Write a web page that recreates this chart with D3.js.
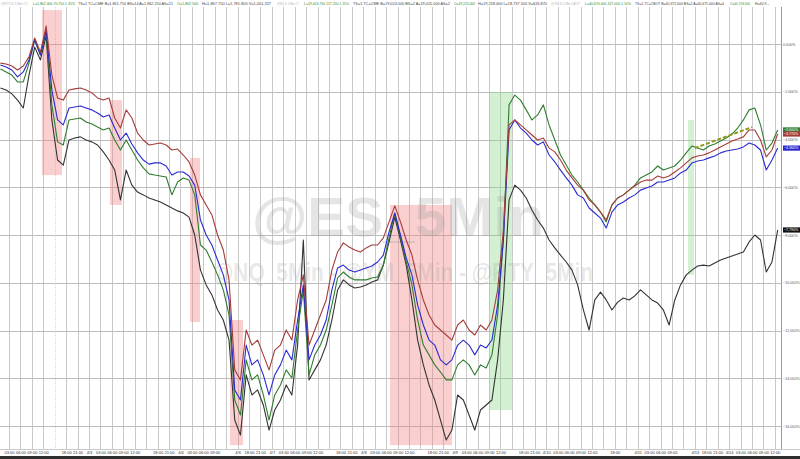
<!DOCTYPE html>
<html><head><meta charset="utf-8">
<script src="https://cdn.jsdelivr.net/npm/d3@7"></script>
<style>
html,body{margin:0;padding:0;background:#fff;}
svg{display:block;font-family:"Liberation Sans",Arial,sans-serif;}
</style></head>
<body>
<svg id="chart" width="800" height="459"></svg>
<script>
// ---------------- DATA ----------------
// time axis: 3-hour slots (continuous session index), one sample every half slot
const slotStart = -0.75, slotStep = 0.5;

const seriesNames = ["@YM_5Min", "@NQ_5Min", "@ES_5Min", "@RTY_5Min"];
const seriesColors = ["#a53c3a", "#2a2ad0", "#2f7d2f", "#333333"];

const redVals = [-0.80,-0.84,-0.92,-1.09,-0.92,-0.54,0.25,-0.34,0.75,-1.30,-2.26,-2.35,-1.93,-1.88,-1.84,-1.93,-2.05,-2.26,-2.35,-2.26,
-3.10,-3.52,-2.76,-3.10,-3.73,-4.02,-4.23,-4.19,-4.15,-4.23,-4.44,-4.40,-4.65,-4.94,-5.49,-6.32,-6.74,-7.16,-8.00,-8.63,
-9.88,-13.65,-14.07,-11.98,-12.61,-12.40,-13.02,-13.65,-12.82,-12.61,-11.98,-12.40,-10.72,-9.67,-12.61,-11.98,-11.35,-10.72,-9.47,-8.71,
-8.33,-8.50,-8.63,-8.71,-8.54,-8.42,-8.42,-8.12,-7.45,-6.78,-7.45,-8.21,-8.84,-9.88,-10.72,-11.35,-11.77,-11.98,-12.19,-12.40,
-11.77,-11.56,-11.98,-12.19,-11.77,-11.98,-11.56,-10.30,-7.79,-3.39,-3.18,-3.39,-3.60,-3.81,-4.02,-3.94,-4.36,-4.52,-4.86,-5.28,
-5.61,-5.91,-6.12,-6.53,-6.74,-7.04,-7.37,-6.74,-6.45,-6.32,-6.12,-5.95,-5.78,-5.70,-5.70,-5.53,-5.61,-5.53,-5.36,-5.19,
-4.98,-4.77,-4.69,-4.65,-4.56,-4.44,-4.31,-4.19,-4.06,-3.98,-3.89,-3.60,-3.60,-4.02,-4.73,-4.44,-3.77];

const blueVals = [-0.88,-0.96,-1.09,-1.38,-1.17,-0.67,0.17,-0.46,0.59,-1.93,-3.18,-3.39,-2.68,-2.64,-2.60,-2.68,-2.76,-2.89,-3.06,-2.97,
-3.52,-4.02,-3.73,-4.19,-4.56,-4.86,-5.03,-4.98,-4.98,-5.11,-5.49,-5.36,-5.36,-5.53,-5.91,-7.37,-8.00,-8.42,-9.05,-9.67,
-10.72,-14.49,-14.91,-12.61,-13.44,-13.23,-13.86,-14.70,-13.86,-13.44,-12.82,-13.23,-11.56,-10.09,-13.23,-12.61,-12.19,-11.56,-10.30,-9.38,
-9.26,-9.47,-9.55,-9.47,-9.38,-9.30,-9.13,-8.84,-7.87,-7.08,-8.00,-8.96,-9.67,-10.93,-11.77,-12.40,-12.61,-13.23,-13.44,-13.23,
-12.61,-12.40,-12.61,-13.02,-12.61,-12.73,-12.40,-10.93,-8.21,-3.60,-3.18,-3.52,-3.73,-4.02,-4.23,-4.10,-4.65,-4.94,-5.28,-5.61,
-5.91,-6.32,-6.45,-6.87,-7.08,-7.29,-7.71,-7.04,-6.74,-6.62,-6.45,-6.32,-6.12,-6.03,-5.95,-5.78,-5.78,-5.70,-5.61,-5.40,
-5.28,-4.98,-4.90,-4.86,-4.77,-4.69,-4.56,-4.48,-4.44,-4.40,-4.31,-4.15,-4.23,-4.44,-5.28,-4.86,-4.36];

const greenVals = [-1.05,-1.17,-1.30,-1.59,-1.59,-0.80,0.17,-0.46,0.50,-2.55,-4.10,-4.23,-3.18,-3.14,-3.10,-3.27,-3.35,-3.48,-3.60,-3.52,
-4.02,-4.44,-4.02,-4.44,-4.86,-5.19,-5.44,-5.49,-5.53,-5.57,-6.32,-5.78,-5.61,-5.70,-6.32,-8.42,-8.63,-9.13,-9.67,-10.30,
-11.35,-14.91,-15.54,-13.23,-14.07,-13.86,-14.70,-15.75,-14.70,-14.28,-13.65,-13.99,-11.98,-10.30,-13.86,-13.02,-12.61,-11.98,-10.93,-9.80,
-9.55,-9.76,-9.88,-9.88,-9.88,-9.80,-9.76,-9.26,-8.12,-7.08,-8.08,-9.13,-10.09,-11.56,-12.61,-13.02,-13.44,-13.74,-14.07,-14.07,
-13.44,-13.23,-13.44,-13.86,-13.44,-13.57,-13.02,-11.35,-8.21,-2.55,-2.14,-2.35,-2.76,-3.18,-2.97,-2.55,-3.39,-4.02,-4.65,-5.07,
-5.49,-5.78,-6.12,-6.45,-6.74,-7.04,-7.45,-6.74,-6.45,-6.32,-6.12,-5.91,-5.61,-5.49,-5.36,-5.11,-5.28,-5.19,-5.11,-4.86,
-4.56,-4.27,-4.36,-4.44,-4.27,-4.19,-4.06,-3.94,-3.77,-3.52,-3.18,-2.76,-2.68,-3.39,-4.44,-4.15,-3.60];

const blackVals = [-1.84,-1.93,-2.09,-2.35,-2.68,-1.30,-0.13,-0.67,0.34,-3.18,-4.86,-5.07,-4.02,-3.94,-3.89,-4.02,-4.10,-4.23,-4.52,-4.86,
-5.28,-6.53,-5.28,-5.91,-6.20,-6.32,-6.45,-6.53,-6.62,-6.74,-6.87,-6.99,-7.08,-7.25,-8.00,-9.47,-10.09,-10.51,-11.14,-11.56,
-12.40,-15.75,-16.38,-13.86,-14.70,-14.49,-15.12,-16.17,-15.33,-14.91,-14.28,-14.70,-12.61,-8.21,-14.07,-13.65,-13.23,-12.61,-11.56,-10.30,
-9.88,-10.09,-10.22,-10.18,-10.09,-9.97,-9.88,-9.26,-8.29,-7.25,-8.21,-9.26,-10.72,-12.40,-13.44,-14.28,-14.91,-15.75,-16.59,-16.17,
-14.70,-14.91,-15.54,-16.17,-15.33,-15.12,-14.91,-13.23,-10.72,-6.53,-5.91,-6.12,-6.45,-6.95,-7.37,-7.71,-8.21,-8.54,-8.84,-9.13,
-9.47,-10.09,-11.14,-11.98,-10.72,-10.39,-10.72,-11.14,-10.81,-10.64,-10.72,-10.55,-10.30,-10.51,-10.72,-10.85,-11.14,-11.77,-10.72,-10.09,
-9.67,-9.47,-9.30,-9.26,-9.30,-9.17,-9.05,-8.96,-8.88,-8.80,-8.71,-8.29,-8.00,-8.21,-9.55,-9.13,-7.79];

const yTicks = [0, -2, -4, -6, -8, -10, -12, -14, -16];

const tickLabels = ["03:00","06:00","09:00","12:00","18:00","21:00","4/3","03:00","06:00","09:00","12:00","18:00","21:00","4/4","03:00","06:00","09:00","4/6","18:00","21:00","4/7","03:00","06:00","09:00","12:00","18:00","21:00","4/8","03:00","06:00","09:00","12:00","18:00","21:00","4/9","03:00","06:00","09:00","12:00","18:00","21:00","4/10","03:00","06:00","09:00","12:00","18:00","4/11","03:00","06:00","09:00","4/13","18:00","21:00","4/14","03:00","06:00","09:00","12:00"];
const tickSlots = [0,1,2,3,5,6,7,8,9,10,11,13,14,15,16,17,18,20,21,22,23,24,25,26,27,29,30,31,32,33,34,35,37,38,39,40,41,42,43,45,46,47,48,49,50,51,53,55,56,57,58,60,61,62,63,64,65,66,67];

// highlighted periods: [slotFrom, slotTo, pctTop, pctBottom]
const redZones = [[2.89,4.64,1.42,-5.49],[8.84,9.89,-2.35,-6.74],[15.84,16.71,-4.77,-11.64],[19.33,20.47,-11.56,-16.80],[33.33,38.76,-6.74,-16.80]];
const greenZones = [[42.0,44.0,-2.01,-15.33],[59.4,59.93,-3.18,-9.67]];
// trend annotation [slot, pct]
const trendLine = [[60.0,-4.36],[65.0,-3.48]];

const headerTexts = [
 ["@RTY.D 5 Min CT", "#b0b0b0"], ["L=1,862.000  70.750  1.35%", "#2e8b2e"],
 ["TS=1  TC=CME  B=1,861.750  BS=14  A=1,862.250  AS=21", "#444"], ["O=1,862.500", "#2e8b2e"],
 ["H=1,867.750  L=1,781.800  V=1,001,327", "#444"],
 ["@NQ.D 5 Min CT", "#b0b0b0"], ["L=19,024.750  217.250  1.15%", "#2e8b2e"],
 ["TS=1  TC=CME  B=19,024.000  BS=2  A=19,025.000  AS=2", "#444"], ["O=19,225.000", "#2e8b2e"],
 ["H=19,258.000  L=18,737.500  V=626,870", "#444"],
 ["@YM.D 5 Min CBOT", "#b0b0b0"], ["L=40,670.000  417.000  1.10%", "#2e8b2e"],
 ["TS=1  TC=CBOT  B=40,672.000  BS=2  A=40,675.000  AS=4", "#444"], ["O=40,703.000", "#2e8b2e"],
 ["H=40,9…", "#444"]
];

// ---------------- LAYOUT ----------------
const headerX = [[1,27],[33,42],[78,95],[177,21],[202,69],[277,22],[304,45],[353,97],[454,21],[478,69],[551,29],[585,46],[635,89],[730,20],[755,15]];
const W = 800, H = 459;
const plot = {left: 0, right: 781, top: 7, bottom: 449};

const svg = d3.select("#chart");
const x = d3.scaleLinear().domain([-0.787, 67.54]).range([plot.left, plot.right]);
const y = d3.scaleLinear().domain([-16, 0]).range([426, 44]);
const slots = redVals.map((_, i) => slotStart + i * slotStep);

svg.append("rect").attr("width", W).attr("height", H).attr("fill", "#fff");

// grid
const gGrid = svg.append("g");
gGrid.selectAll("line.v").data(d3.range(0, 68)).join("line")
  .attr("x1", d => Math.round(x(d)) + 0.5).attr("x2", d => Math.round(x(d)) + 0.5)
  .attr("y1", plot.top).attr("y2", plot.bottom)
  .attr("stroke", d => d === 4 ? "#d8d8d8" : "#c9c9c9").attr("stroke-width", 1)
  .attr("stroke-dasharray", d => d === 4 ? "1,1" : null);
gGrid.selectAll("line.h").data(yTicks).join("line")
  .attr("x1", plot.left).attr("x2", plot.right)
  .attr("y1", d => Math.round(y(d)) + 0.5).attr("y2", d => Math.round(y(d)) + 0.5)
  .attr("stroke", "#bcbcbc").attr("stroke-width", 1);
svg.append("line").attr("x1", plot.right + 0.5).attr("x2", plot.right + 0.5).attr("y1", plot.top).attr("y2", plot.bottom).attr("stroke", "#9a9a9a");
svg.append("line").attr("x1", 0).attr("x2", W).attr("y1", plot.bottom + 0.5).attr("y2", plot.bottom + 0.5).attr("stroke", "#c9c9c9");

// zones
const zoneRect = (sel, data, fill) => sel.selectAll("rect").data(data).join("rect")
  .attr("x", d => x(d[0])).attr("width", d => x(d[1]) - x(d[0]))
  .attr("y", d => y(d[2])).attr("height", d => y(d[3]) - y(d[2]))
  .attr("fill", fill);
zoneRect(svg.append("g"), redZones, "rgba(240,130,130,0.38)");
zoneRect(svg.append("g"), greenZones, "rgba(140,215,140,0.38)");

// watermark
svg.append("text").attr("x", 398).attr("y", 236).attr("text-anchor", "middle")
  .attr("font-size", 56).attr("font-weight", "bold").attr("fill", "#9c9c9c").attr("fill-opacity", 0.26)
  .attr("textLength", 292).attr("lengthAdjust", "spacingAndGlyphs")
  .text("@ES_5Min");
svg.append("text").attr("x", 403).attr("y", 281).attr("text-anchor", "middle")
  .attr("font-size", 26).attr("font-weight", "bold").attr("fill", "#9c9c9c").attr("fill-opacity", 0.24)
  .attr("textLength", 380).attr("lengthAdjust", "spacingAndGlyphs")
  .text("@NQ_5Min - @YM_5Min - @RTY_5Min");

// lines
svg.append("clipPath").attr("id", "clip").append("rect")
  .attr("x", plot.left).attr("y", 0).attr("width", plot.right - plot.left).attr("height", plot.bottom);
const line = d3.line().x((d, i) => x(slots[i])).y(d => y(d));
const allSeries = [blackVals, greenVals, blueVals, redVals];
const allColors = [seriesColors[3], seriesColors[2], seriesColors[1], seriesColors[0]];
const gLines = svg.append("g").attr("clip-path", "url(#clip)");
gLines.selectAll("path").data(allSeries).join("path")
  .attr("d", d => line(d)).attr("fill", "none")
  .attr("stroke", (d, i) => allColors[i]).attr("stroke-width", 1.1).attr("stroke-linejoin", "round");

// trend annotation
svg.append("path").attr("d", d3.line().x(d => x(d[0])).y(d => y(d[1]))(trendLine))
  .attr("stroke", "#8f9a1c").attr("stroke-width", 2).attr("stroke-dasharray", "4,2").attr("fill", "none");

// y axis (right)
const yAxis = d3.axisRight(y).tickValues(yTicks).tickSize(0).tickPadding(2)
  .tickFormat(d => d3.format(".3f")(d) + "%");
const gy = svg.append("g").attr("transform", `translate(${plot.right},0)`).call(yAxis);
gy.select(".domain").remove();
gy.selectAll("text").attr("font-size", 3.7).attr("fill", "#555").attr("font-family", "Liberation Sans, Arial");

// last value tags
const lastVals = [greenVals, redVals, blueVals, blackVals].map(a => a[a.length - 1]);
const tagColors = [seriesColors[2], seriesColors[0], seriesColors[1], "#111"];
const gTags = svg.append("g");
lastVals.forEach((v, i) => {
  const yy = y(v);
  gTags.append("rect").attr("x", plot.right + 2).attr("y", yy - 2.6).attr("width", 17).attr("height", 5.2).attr("fill", tagColors[i]);
  gTags.append("text").attr("x", plot.right + 3).attr("y", yy + 1.4).attr("font-size", 3.6).attr("fill", "#fff")
    .text(d3.format(".3f")(v) + "%");
});

// x axis
const xAxis = d3.axisBottom(x).tickValues(tickSlots).tickSize(0).tickPadding(2)
  .tickFormat((d, i) => tickLabels[i]);
const gx = svg.append("g").attr("transform", `translate(0,${plot.bottom})`).call(xAxis);
gx.select(".domain").remove();
gx.selectAll("text").attr("font-size", 4).attr("fill", "#333").attr("font-family", "Liberation Sans, Arial");

// bottom bar
svg.append("rect").attr("x", 0).attr("y", 456).attr("width", W).attr("height", 3).attr("fill", "#2d2d2d");

// header
const gH = svg.append("g");
headerTexts.forEach((h, i) => {
  gH.append("text").attr("x", headerX[i][0]).attr("y", 4.5).attr("font-size", 3.3)
    .attr("textLength", headerX[i][1]).attr("lengthAdjust", "spacingAndGlyphs")
    .attr("fill", h[1]).text(h[0]);
});
</script>
</body></html>
